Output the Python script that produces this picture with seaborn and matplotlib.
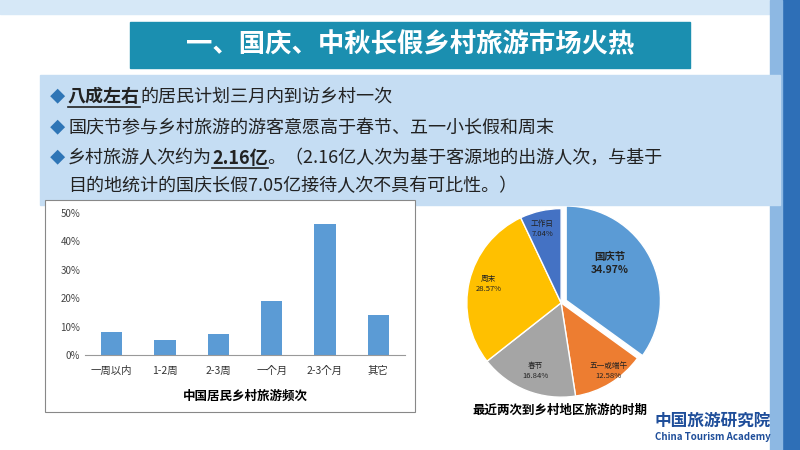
import matplotlib.pyplot as plt
import matplotlib.patches as mpatches
from matplotlib import font_manager
import seaborn as sns
import pandas as pd

cjk = [f.name for f in font_manager.fontManager.ttflist if 'CJK' in f.name and 'Sans' in f.name]
cjk_name = 'Noto Sans CJK SC' if 'Noto Sans CJK SC' in cjk else (cjk[0] if cjk else 'DejaVu Sans')
plt.rcParams['font.family'] = [cjk_name, 'DejaVu Sans']

# 数据
freq_labels = ['一周以内', '1-2周', '2-3周', '一个月', '2-3个月', '其它']
freq_values = [8.0, 5.3, 7.5, 19.0, 46.0, 14.0]

period_labels = ['国庆节', '五一或端午', '春节', '周末', '工作日']
period_values = [34.97, 12.58, 16.84, 28.57, 7.04]
period_colors = ['#5B9BD5', '#ED7D31', '#A5A5A5', '#FFC000', '#4472C4']

fig = plt.figure(figsize=(8, 4.5), dpi=100)
W, H = 800, 450

def box(x, y, w, h, **kw):
    fig.patches.append(mpatches.Rectangle((x / W, 1 - (y + h) / H), w / W, h / H,
                                          transform=fig.transFigure, **kw))

# 背景装饰
box(0, 0, 800, 14, color='#D6E8F7', zorder=0)
box(782, 0, 18, 450, color='#2E6FB7', zorder=0)
box(770, 0, 12, 450, color='#8DB8E3', zorder=0)

# 标题
box(130, 22, 560, 46, color='#1B8FB0', zorder=1)
fig.text(410 / W, 1 - 45 / H, '一、国庆、中秋长假乡村旅游市场火热', color='white',
         fontsize=19, fontweight='bold', ha='center', va='center')

# 要点框
box(40, 75, 740, 130, color='#C5DDF3', zorder=1)
rows = [
    (97, True, [('八成左右', True), ('的居民计划三月内到访乡村一次', False)]),
    (128, True, [('国庆节参与乡村旅游的游客意愿高于春节、五一小长假和周末', False)]),
    (158, True, [('乡村旅游人次约为', False), ('2.16亿', True),
                 ('。（2.16亿人次为基于客源地的出游人次，与基于', False)]),
    (186, False, [('目的地统计的国庆长假7.05亿接待人次不具有可比性。）', False)]),
]
renderer = fig.canvas.get_renderer()
for y, mark, parts in rows:
    if mark:
        fig.text(50 / W, 1 - y / H, '◆', color='#2E75B6', fontsize=11, va='center')
    x = 68
    for t, emph in parts:
        txt = fig.text(x / W, 1 - y / H, t, color='#222222', fontsize=13, va='center',
                       fontweight='bold' if emph else 'normal')
        bb = txt.get_window_extent(renderer)
        if emph:
            fig.lines.append(plt.Line2D([x / W, (x + bb.width) / W],
                                        [1 - (y + 10) / H] * 2, color='#222222', lw=1.2,
                                        transform=fig.transFigure))
        x += bb.width

# 柱状图
box(45, 200, 370, 212, facecolor='white', edgecolor='#888888', lw=0.8, zorder=2)
ax = fig.add_axes([85 / W, 1 - 355 / H, 320 / W, 142 / H])
ax.set_zorder(3)
df = pd.DataFrame({'label': freq_labels, 'value': freq_values})
sns.barplot(data=df, x='label', y='value', color='#5B9BD5', width=0.4,
            saturation=1, ax=ax)
ax.set_ylim(0, 50)
ax.set_yticks(range(0, 51, 10))
ax.set_yticklabels([f'{v}%' for v in range(0, 51, 10)], fontsize=7, color='#444444')
ax.tick_params(axis='x', labelsize=7.5, colors='#333333', length=0, pad=8)
ax.tick_params(axis='y', length=0)
ax.set_xlabel('中国居民乡村旅游频次', fontsize=9, fontweight='bold', labelpad=10)
ax.set_ylabel('')
for s in ['top', 'right', 'left']:
    ax.spines[s].set_visible(False)
ax.spines['bottom'].set_color('#999999')
ax.patch.set_alpha(0)

# 饼图
pax = fig.add_axes([463 / W, 1 - 400 / H, 200 / W, 198 / H])
explode = [0.06, 0, 0, 0, 0]
wedges, texts = pax.pie(period_values, colors=period_colors, startangle=90,
                        counterclock=False, explode=explode, radius=1.0,
                        wedgeprops=dict(edgecolor='white', linewidth=1))
pax.set_xlim(-1.03, 1.07)
pax.set_ylim(-1.03, 1.07)
pos = [(0.52, 0.42, 7.5, 'bold'), (0.5, -0.72, 5.5, 'normal'), (-0.27, -0.72, 5.5, 'normal'),
       (-0.77, 0.2, 5.5, 'normal'), (-0.2, 0.78, 5.5, 'normal')]
for lab, v, (x, y, fs, fw) in zip(period_labels, period_values, pos):
    pax.text(x, y, f'{lab}\n{v:.2f}%', ha='center', va='center', fontsize=fs,
             fontweight=fw, color='#222222', linespacing=1.3)
fig.text(560 / W, 1 - 410 / H, '最近两次到乡村地区旅游的时期', fontsize=9,
         fontweight='bold', ha='center', va='center')

# 机构标识
fig.text(655 / W, 1 - 421 / H, '中国旅游研究院', fontsize=12, fontweight='bold',
         color='#1F4E9A', va='center')
fig.text(655 / W, 1 - 437 / H, 'China Tourism Academy', fontsize=7, fontweight='bold',
         color='#1F4E9A', va='center')

fig.savefig('out.png', dpi=100)
